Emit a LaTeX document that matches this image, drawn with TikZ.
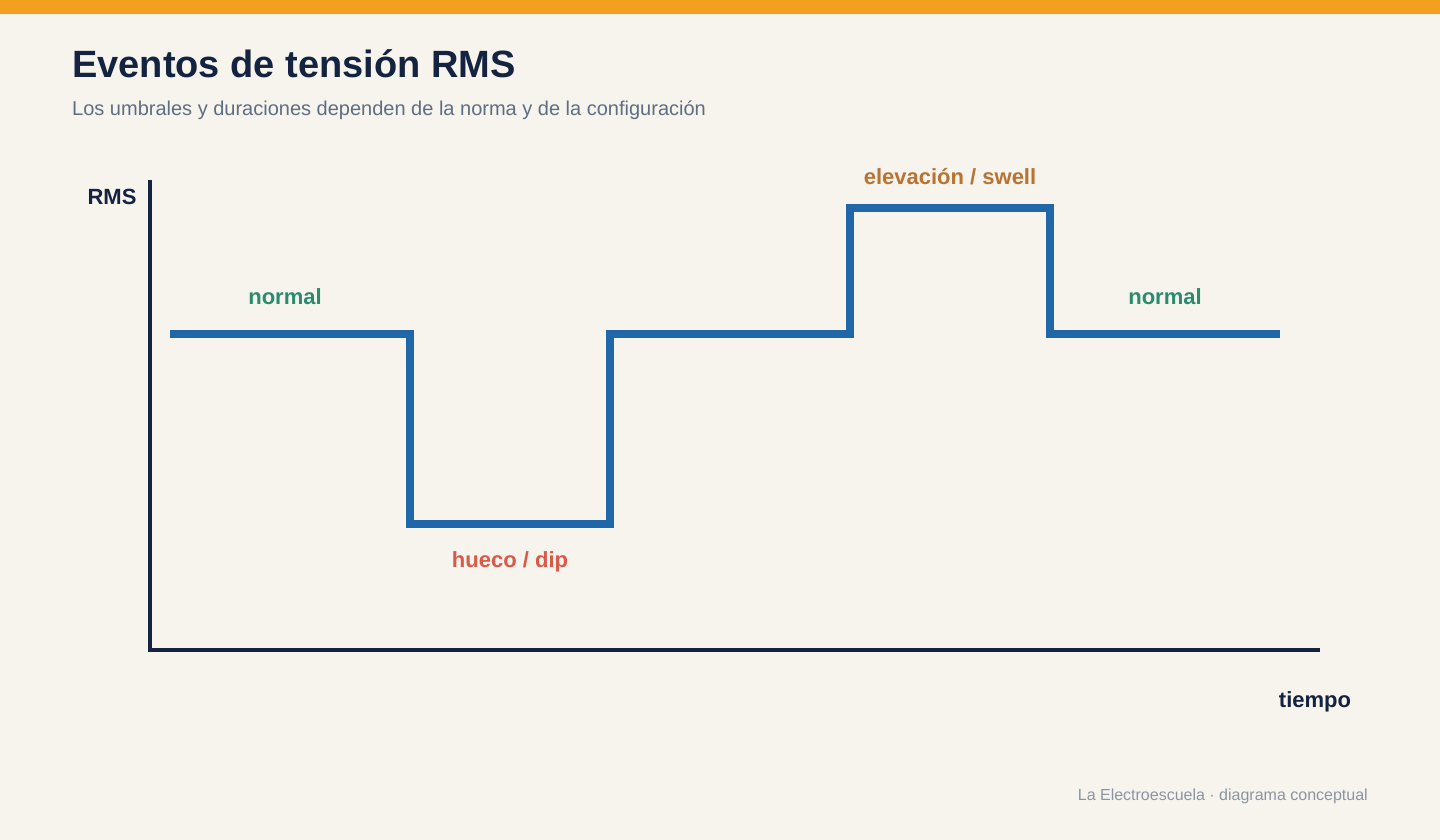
\documentclass[tikz,border=0pt]{standalone}
\usepackage{fontspec}
\setmainfont{Liberation Sans}
\definecolor{bg}{HTML}{F7F4EE}
\definecolor{bar}{HTML}{F2A11F}
\definecolor{ink}{HTML}{14233F}
\definecolor{sig}{HTML}{1F67A8}
\definecolor{grn}{HTML}{2A8C6E}
\definecolor{red}{HTML}{D95A48}
\definecolor{org}{HTML}{B87333}
\definecolor{sub}{HTML}{5E6E82}
\definecolor{foot}{HTML}{8A95A3}
\begin{document}
\begin{tikzpicture}[x=1pt,y=-1pt,
  lab/.style={font=\fontsize{22}{26}\selectfont\bfseries, inner sep=0pt},
  axis/.style={draw=ink, line width=4pt},
  signal/.style={draw=sig, line width=8pt, line join=miter}]
\fill[bg] (0,0) rectangle (1440,840);
\useasboundingbox (0,0) rectangle (1440,840);
\fill[bar] (0,0) rectangle (1440,14);
\node[anchor=base west, inner sep=0pt, text=ink, font=\fontsize{38}{44}\selectfont\bfseries] (title) at (72,78) {Eventos de tensión RMS};
\node[anchor=base west, inner sep=0pt, text=sub, font=\fontsize{20}{24}\selectfont] (subt) at (72,116) {Los umbrales y duraciones dependen de la norma y de la configuración};
\coordinate (ytop) at (150,180);
\coordinate (orig) at (150,650);
\coordinate (xend) at (1320,650);
\draw[axis] (ytop) -- (orig) -- (xend);
\draw[signal] (170,334) -- (410,334) -- (410,524) -- (610,524) -- (610,334) -- (850,334) -- (850,208) -- (1050,208) -- (1050,334) -- (1280,334);
\node[lab, text=ink] (rms) at (112,197) {RMS};
\node[lab, text=grn] (n1) at (285,297) {normal};
\node[lab, text=red] (dip) at (510,562) {hueco / dip};
\node[lab, text=org] (sw) at (950,177) {elevación / swell};
\node[lab, text=grn] (n2) at (1165,297) {normal};
\node[lab, text=ink] (t) at (1315,702) {tiempo};
\node[anchor=base east, inner sep=0pt, text=foot, font=\fontsize{16}{20}\selectfont] (ft) at (1368,800) {La Electroescuela · diagrama conceptual};
\end{tikzpicture}
\end{document}
